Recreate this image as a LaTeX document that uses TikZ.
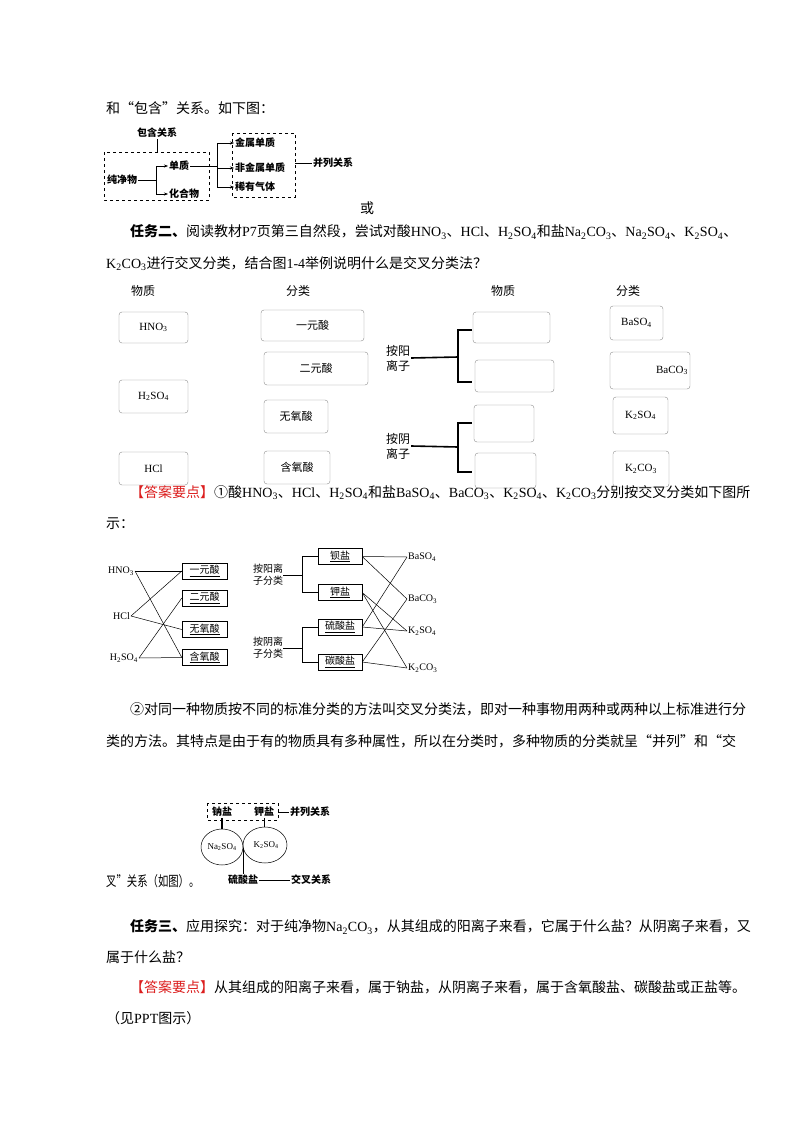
\documentclass[tikz,border=0pt]{standalone}
\usepackage{fontspec}
\setmainfont{Noto Sans CJK SC}
\newfontfamily\tm{Liberation Serif}
\newcommand\fm[1]{{\tm #1}}
\newcommand\sbs[1]{\textsubscript{#1}}
\usetikzlibrary{arrows.meta}
\definecolor{ansred}{RGB}{220,30,30}
\begin{document}
\begin{tikzpicture}[x=1pt,y=-1pt,
  body/.style={anchor=west,inner sep=0pt,font=\fontsize{14}{16}\selectfont},
  small/.style={inner sep=1pt,font=\fontsize{10}{12}\selectfont},
  gbox/.style={draw=black!45,rounded corners=3pt,inner sep=0pt,font=\fontsize{11}{13}\selectfont},
  ubox/.style={draw,inner sep=0pt,minimum width=45pt,minimum height=16pt,font=\fontsize{10}{12}\selectfont},
  ln/.style={line width=0.5pt},
  thk/.style={line width=1.6pt},
  arr/.style={ln,-{Stealth[length=4pt]}}]
\useasboundingbox (0,0) rectangle (800,1132);
\fill[white] (0,0) rectangle (800,1132);
% text lines
\node[body] (t1) at (106,108) {和“包含”关系。如下图：};
\node[body] (t2) at (360,208) {或};
\node[body] (t3) at (130,232) {\textbf{任务二、}阅读教材\fm{P7}页第三自然段，尝试对酸\fm{HNO\sbs{3}}、\fm{HCl}、\fm{H\sbs{2}SO\sbs{4}}和盐\fm{Na\sbs{2}CO\sbs{3}}、\fm{Na\sbs{2}SO\sbs{4}}、\fm{K\sbs{2}SO\sbs{4}}、};
\node[body] (t4) at (106,264) {\fm{K\sbs{2}CO\sbs{3}}进行交叉分类，结合图\fm{1-4}举例说明什么是交叉分类法？};
\node[body] (t5) at (130,493) {\textcolor{ansred}{【答案要点】}①酸\fm{HNO\sbs{3}}、\fm{HCl}、\fm{H\sbs{2}SO\sbs{4}}和盐\fm{BaSO\sbs{4}}、\fm{BaCO\sbs{3}}、\fm{K\sbs{2}SO\sbs{4}}、\fm{K\sbs{2}CO\sbs{3}}分别按交叉分类如下图所};
\node[body] (t6) at (106,524) {示：};
\node[body] (t7) at (130,709) {②对同一种物质按不同的标准分类的方法叫交叉分类法，即对一种事物用两种或两种以上标准进行分};
\node[body] (t8) at (106,741) {类的方法。其特点是由于有的物质具有多种属性，所以在分类时，多种物质的分类就呈“并列”和“交};
\node[body] (t9) at (106,881) {\scalebox{0.74}[1]{叉”关系（如图）。}};
\node[body] (t10) at (130,927) {\textbf{任务三、}应用探究：对于纯净物\fm{Na\sbs{2}CO\sbs{3}}，从其组成的阳离子来看，它属于什么盐？从阴离子来看，又};
\node[body] (t11) at (106,957) {属于什么盐？};
\node[body] (t12) at (130,987) {\textcolor{ansred}{【答案要点】}从其组成的阳离子来看，属于钠盐，从阴离子来看，属于含氧酸盐、碳酸盐或正盐等。};
\node[body] (t13) at (106,1018) {（见\fm{PPT}图示）};
% diagram 1
\node[small] (bh) at (157,133) {\textbf{包含关系}};
\draw[dashed,ln] (104,152) rectangle (209,200);
\coordinate (bt) at (157,152);
\draw[ln] (bh.south) -- (bt);
\node[small,anchor=west] (cjw) at (106,180) {\textbf{纯净物}};
\node[small,anchor=west] (dz) at (168,166) {\textbf{单质}};
\node[small,anchor=west] (hhw) at (168,194) {\textbf{化合物}};
\draw[ln] (cjw.east) -- (156,180);
\draw[ln] (156,166) -- (156,194);
\draw[arr] (156,166) -- (dz.west);
\draw[arr] (156,194) -- (hhw.west);
\draw[dashed,ln] (232,133) rectangle (295,197);
\node[small,anchor=west] (j1) at (234,143) {\textbf{金属单质}};
\node[small,anchor=west] (j2) at (234,168) {\textbf{非金属单质}};
\node[small,anchor=west] (j3) at (234,187) {\textbf{稀有气体}};
\draw[ln] (dz.east) -- (217,166);
\draw[ln] (217,143) -- (217,187);
\draw[arr] (217,143) -- (j1.west);
\draw[arr] (217,168) -- (j2.west);
\draw[arr] (217,187) -- (j3.west);
\node[small,anchor=west] (bl) at (312,163) {\textbf{并列关系}};
\draw[ln] (295,163) -- (bl.west);
% diagram 2 headers
\node[font=\fontsize{12}{14}\selectfont] (h1) at (143,291) {物质};
\node[font=\fontsize{12}{14}\selectfont] (h2) at (298,291) {分类};
\node[font=\fontsize{12}{14}\selectfont] (h3) at (503,291) {物质};
\node[font=\fontsize{12}{14}\selectfont] (h4) at (628,291) {分类};
\node[gbox,minimum width=69pt,minimum height=31pt] (a1) at (153.5,327.5) {\fm{HNO\sbs{3}}};
\node[gbox,minimum width=69pt,minimum height=33pt] (a2) at (153.5,396.5) {\fm{H\sbs{2}SO\sbs{4}}};
\node[gbox,minimum width=69pt,minimum height=33pt] (a3) at (153.5,468.5) {\fm{HCl}};
\node[gbox,minimum width=103pt,minimum height=31pt] (c1) at (312.5,325.5) {一元酸};
\node[gbox,minimum width=104pt,minimum height=33pt] (c2) at (316,368.5) {二元酸};
\node[gbox,minimum width=64pt,minimum height=33pt] (c3) at (296,416.5) {无氧酸};
\node[gbox,minimum width=66pt,minimum height=33pt] (c4) at (297,467.5) {含氧酸};
\node[gbox,minimum width=77pt,minimum height=31pt] (e1) at (511.5,327.5) {};
\node[gbox,minimum width=79pt,minimum height=32pt] (e2) at (514.5,376) {};
\node[gbox,minimum width=60pt,minimum height=37pt] (e3) at (504,423.5) {};
\node[gbox,minimum width=61pt,minimum height=35pt] (e4) at (505.5,470.5) {};
\node[gbox,minimum width=53pt,minimum height=34pt] (s1) at (636.5,323) {\fm{BaSO\sbs{4}}};
\node[gbox,minimum width=80pt,minimum height=37pt,text width=76pt,align=right] (s2) at (650,370.5) {\fm{BaCO\sbs{3}}};
\node[gbox,minimum width=55pt,minimum height=37pt] (s3) at (640.5,415.5) {\fm{K\sbs{2}SO\sbs{4}}};
\node[gbox,minimum width=56pt,minimum height=36pt] (s4) at (641,469) {\fm{K\sbs{2}CO\sbs{3}}};
\node[font=\fontsize{12}{15}\selectfont,align=center,inner sep=1pt] (y1) at (398,358) {按阳\\离子};
\node[font=\fontsize{12}{15}\selectfont,align=center,inner sep=1pt] (y2) at (398,446) {按阴\\离子};
\draw[thk] (y1.east) -- (458,357);
\draw[thk] (472,330) -- (458,330) -- (458,382) -- (472,382);
\draw[thk] (y2.east) -- (458,447);
\draw[thk] (472,423) -- (458,423) -- (458,472) -- (472,472);
% diagram 3
\node[small,anchor=east] (x1) at (135,571) {\fm{HNO\sbs{3}}};
\node[small,anchor=east] (x2) at (131,616) {\fm{HCl}};
\node[small,anchor=east] (x3) at (139,658) {\fm{H\sbs{2}SO\sbs{4}}};
\node[ubox] (u1) at (204.5,571) {\underline{一元酸}};
\node[ubox] (u2) at (204.5,598) {\underline{二元酸}};
\node[ubox] (u3) at (204.5,629.5) {\underline{无氧酸}};
\node[ubox] (u4) at (204.5,657.5) {\underline{含氧酸}};
\draw[ln] (x1.east) -- (u1.west);
\draw[ln] (x1.east) -- (u4.west);
\draw[ln] (x2.east) -- (u1.west);
\draw[ln] (x2.east) -- (u3.west);
\draw[ln] (x3.east) -- (u2.west);
\draw[ln] (x3.east) -- (u4.west);
\node[small,align=center,inner sep=0pt] (p1) at (268,575) {按阳离\\子分类};
\node[small,align=center,inner sep=0pt] (p2) at (268,648) {按阴离\\子分类};
\node[ubox,minimum width=44pt] (v1) at (340,556.5) {\underline{钡盐}};
\node[ubox,minimum width=44pt] (v2) at (340,592.5) {\underline{钾盐}};
\node[ubox,minimum width=44pt] (v3) at (340,627) {\underline{硫酸盐}};
\node[ubox,minimum width=44pt] (v4) at (340,662) {\underline{碳酸盐}};
\draw[ln] (p1.east) -- (302,575);
\draw[ln] (v1.west) -- (302,556.5) -- (302,592.5) -- (v2.west);
\draw[ln] (p2.east) -- (302,648);
\draw[ln] (v3.west) -- (302,627) -- (302,662) -- (v4.west);
\node[small,anchor=west] (w1) at (407,557) {\fm{BaSO\sbs{4}}};
\node[small,anchor=west] (w2) at (407,599) {\fm{BaCO\sbs{3}}};
\node[small,anchor=west] (w3) at (407,631) {\fm{K\sbs{2}SO\sbs{4}}};
\node[small,anchor=west] (w4) at (407,668) {\fm{K\sbs{2}CO\sbs{3}}};
\draw[ln] (v1.east) -- (w1.west); \draw[ln] (v1.east) -- (w2.west);
\draw[ln] (v2.east) -- (w3.west); \draw[ln] (v2.east) -- (w4.west);
\draw[ln] (v3.east) -- (w1.west); \draw[ln] (v3.east) -- (w3.west);
\draw[ln] (v4.east) -- (w2.west); \draw[ln] (v4.east) -- (w4.west);
% diagram 4
\draw[dashed,ln] (207,803) rectangle (278,820);
\node[small] (n1) at (222,812) {\textbf{钠盐}};
\node[small] (n2) at (264,812) {\textbf{钾盐}};
\node[small,anchor=west] (q1) at (289,812) {\textbf{并列关系}};
\draw[ln] (278,812) -- (q1.west);
\draw[ln] (222,847) ellipse (21pt and 18pt);
\draw[ln] (265,845) ellipse (22pt and 18pt);
\node[small,font=\fontsize{9}{11}\selectfont] (n3) at (222,847) {\fm{Na\sbs{2}SO\sbs{4}}};
\node[small,font=\fontsize{9}{11}\selectfont] (n4) at (266,845) {\fm{K\sbs{2}SO\sbs{4}}};
\draw[line width=1.2pt] (n1.south) -- (222,829);
\draw[ln] (n2.south) -- (264,827);
\node[small] (n5) at (243,880) {\textbf{硫酸盐}};
\draw[ln] (n5.north) -- (243,848);
\node[small,anchor=west] (q2) at (290,880) {\textbf{交叉关系}};
\draw[ln] (n5.east) -- (q2.west);
\end{tikzpicture}
\end{document}
